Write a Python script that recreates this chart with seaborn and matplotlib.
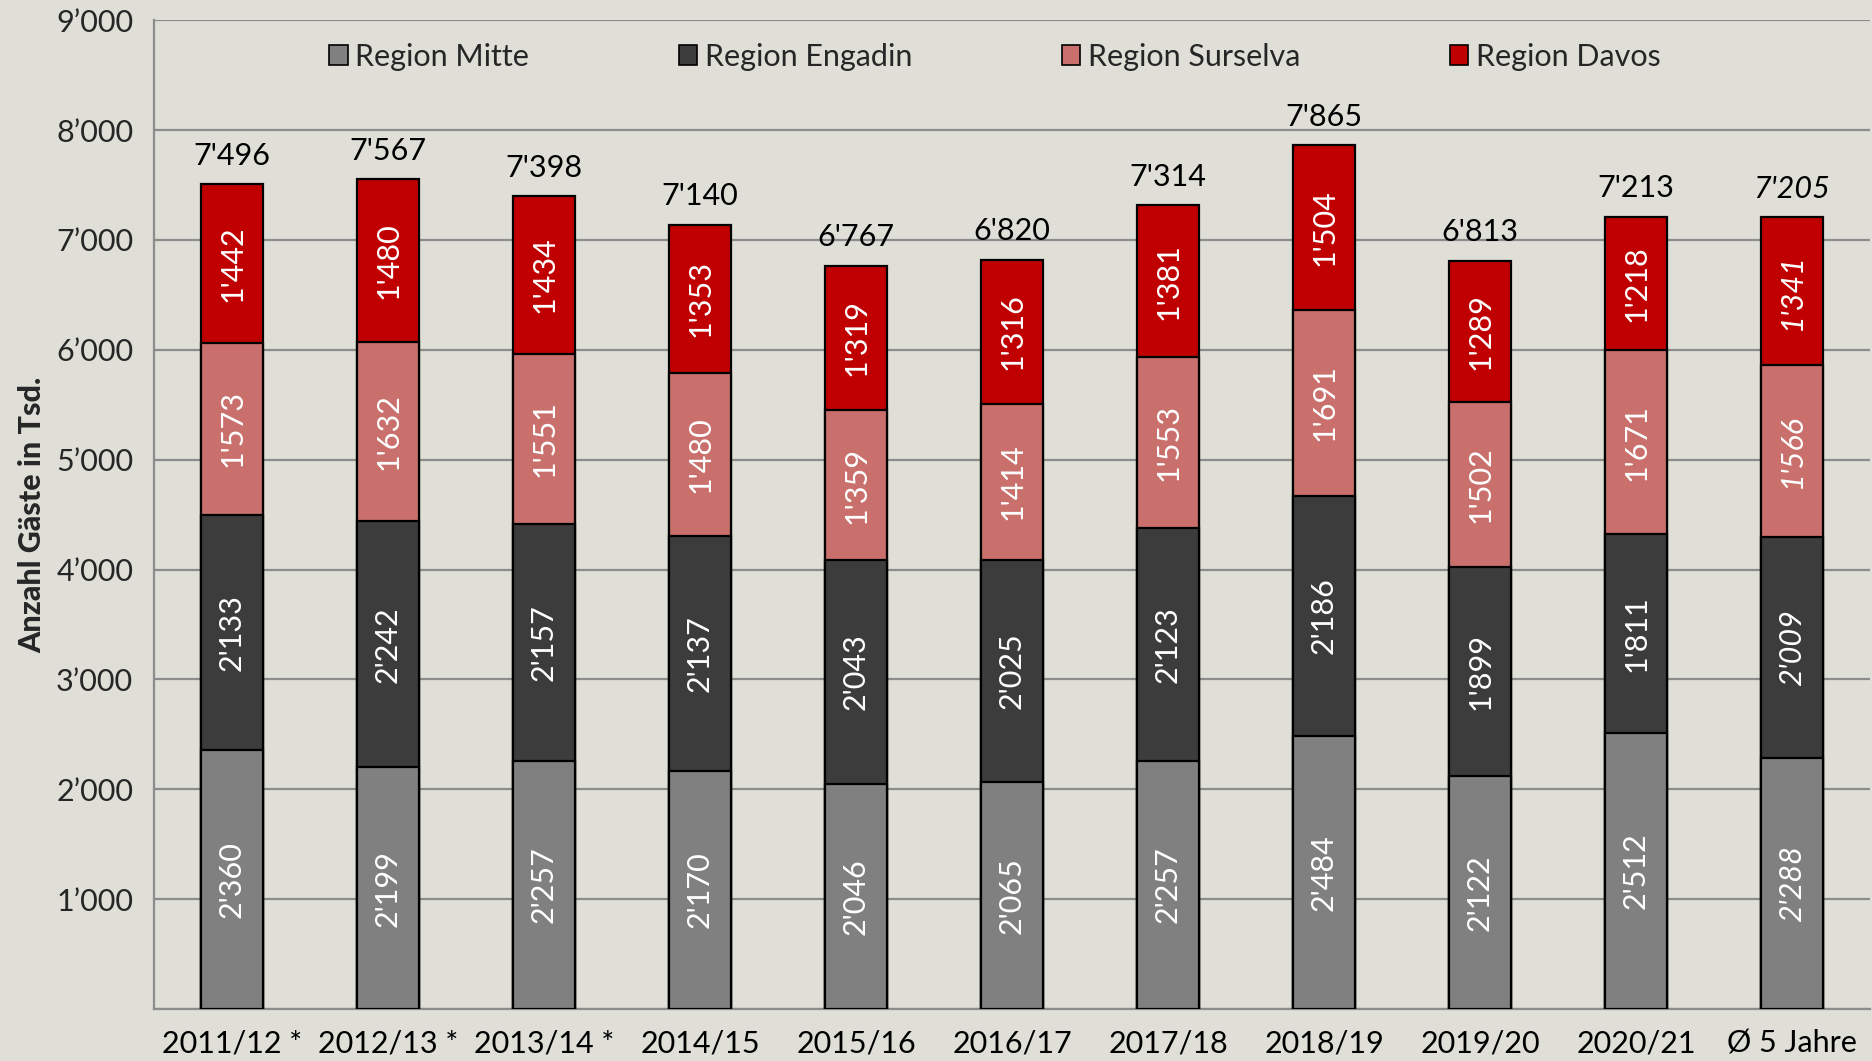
import matplotlib
matplotlib.use("Agg")
import matplotlib.pyplot as plt
from matplotlib.patches import Patch
from matplotlib.ticker import FixedLocator, FuncFormatter
import numpy as np
import pandas as pd
import seaborn as sns

# Daten (Anzahl Gäste in Tsd.)
seasons = ["2011/12 *", "2012/13 *", "2013/14 *", "2014/15", "2015/16", "2016/17",
           "2017/18", "2018/19", "2019/20", "2020/21", "Ø 5 Jahre"]
mitte = [2360, 2199, 2257, 2170, 2046, 2065, 2257, 2484, 2122, 2512, 2288]
engadin = [2133, 2242, 2157, 2137, 2043, 2025, 2123, 2186, 1899, 1811, 2009]
surselva = [1573, 1632, 1551, 1480, 1359, 1414, 1553, 1691, 1502, 1671, 1566]
davos = [1442, 1480, 1434, 1353, 1319, 1316, 1381, 1504, 1289, 1218, 1341]
totals = [7496, 7567, 7398, 7140, 6767, 6820, 7314, 7865, 6813, 7213, 7205]

regions = ["Region Mitte", "Region Engadin", "Region Surselva", "Region Davos"]
colors = ["#808080", "#3c3c3c", "#c9706c", "#c00000"]
BG = "#dfdfd8"
GRID = "#8c8c8c"
FS = 22

sns.set_theme(style="white")
plt.rcParams["font.family"] = ["Lato", "DejaVu Sans"]

df = pd.DataFrame({"season": seasons, "Region Mitte": mitte, "Region Engadin": engadin,
                   "Region Surselva": surselva, "Region Davos": davos})
layers = df[regions].to_numpy()
cum = np.cumsum(layers, axis=1)

fig = plt.figure(figsize=(18.72, 10.61), dpi=100, facecolor=BG)
ax = fig.add_axes([0.0823, 0.049, 0.9167, 0.932])
ax.set_facecolor(BG)

# gestapelte Balken: kumulierte Höhen von oben nach unten zeichnen
for i in range(3, -1, -1):
    sns.barplot(x=df["season"], y=cum[:, i], color=colors[i], width=0.4,
                edgecolor="black", linewidth=1.6, saturation=1, ax=ax, zorder=3)

# Werte in den Balken
for j in range(len(seasons)):
    style = "italic" if j == len(seasons) - 1 else "normal"
    for i in range(4):
        bottom = cum[j, i] - layers[j, i]
        val = layers[j, i]
        ax.text(j, bottom + val / 2, f"{val // 1000}'{val % 1000:03d}", rotation=90,
                ha="center", va="center", color="white", fontsize=FS, style=style, zorder=5)
    tot = totals[j]
    ax.text(j, cum[j, 3] + 130, f"{tot // 1000}'{tot % 1000:03d}", ha="center", va="bottom",
            color="black", fontsize=FS, style=style, zorder=5)

ax.set_ylim(0, 9000)
ax.set_xlim(-0.5, len(seasons) - 0.5)
ax.yaxis.set_major_locator(FixedLocator(np.arange(0, 9001, 1000)))
ax.yaxis.set_major_formatter(FuncFormatter(
    lambda v, p: "" if v == 0 else f"{int(v) // 1000}\u2019{int(v) % 1000:03d}"))
ax.grid(axis="y", color=GRID, linewidth=1.6, zorder=0)
ax.set_axisbelow(True)

ax.xaxis.set_minor_locator(FixedLocator(np.arange(-0.5, len(seasons), 1)))
ax.tick_params(axis="x", which="major", length=0, pad=15, labelsize=FS, colors="black")
ax.tick_params(axis="x", which="minor", length=9, width=1.6, color=GRID, direction="out")
ax.tick_params(axis="y", which="major", length=9, width=1.6, color=GRID, direction="out",
               labelsize=FS, pad=6)
ax.set_xlabel("")
ax.set_ylabel("Anzahl Gäste in Tsd.", fontsize=22, fontweight="black")
ax.yaxis.set_label_coords(-0.063, 0.5)

for s in ["top", "right"]:
    ax.spines[s].set_visible(False)
for s in ["left", "bottom"]:
    ax.spines[s].set_color(GRID)
    ax.spines[s].set_linewidth(1.6)

handles = [Patch(facecolor=c, edgecolor="black", linewidth=1.2) for c in colors]
ax.legend(handles, regions, loc="center", bbox_to_anchor=(0.49, 0.963), ncol=4,
          frameon=False, fontsize=FS, handlelength=0.6, handleheight=0.6,
          handletextpad=0.25, columnspacing=4.9)

fig.savefig("out.png", dpi=100, facecolor=BG)
